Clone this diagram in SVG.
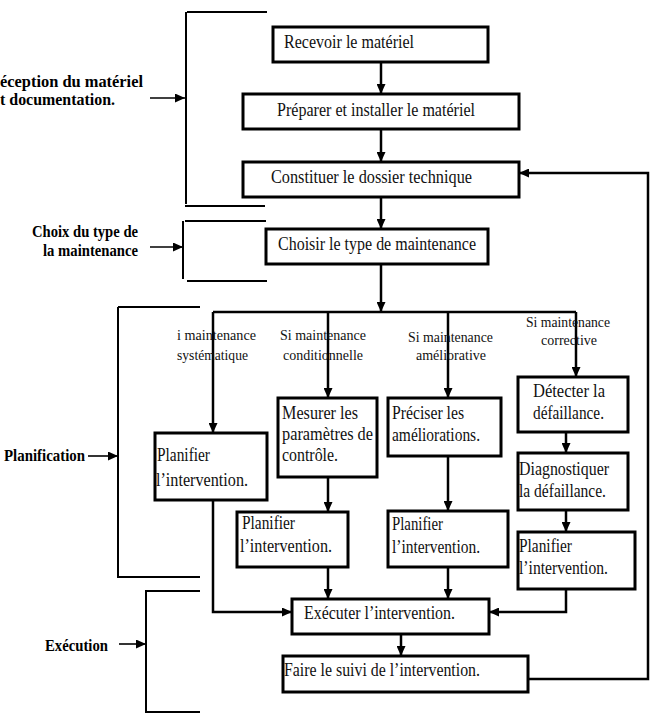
<svg xmlns="http://www.w3.org/2000/svg" width="653" height="713" viewBox="0 0 653 713">
<style>
.box{fill:#fff;stroke:#000;stroke-width:3}
.t{font-family:"Liberation Serif","Times New Roman",serif;font-size:19.5px;fill:#111}
.s{font-family:"Liberation Serif","Times New Roman",serif;font-size:15px;fill:#111}
.b{font-family:"Liberation Serif","Times New Roman",serif;font-size:16.5px;font-weight:bold;fill:#000}
.c{fill:none;stroke:#000;stroke-width:2.5}
.br{fill:none;stroke:#000;stroke-width:2}
.bl{fill:none;stroke:#000;stroke-width:1.6}
</style>
<defs>
<marker id="ah" markerUnits="userSpaceOnUse" markerWidth="10" markerHeight="9" refX="10" refY="4.5" orient="auto">
<path d="M0,0 L10,4.5 L0,9 Z" fill="#000"/>
</marker>
</defs>
<rect width="653" height="713" fill="#fff"/>

<g id="phases">
<g id="phase-reception">
<path class="br" d="M187,12 H267 M186,12 V204 M185,206 H265"/>
<path class="bl" d="M150,98 H185" marker-end="url(#ah)"/>
<text class="b" x="0" y="87" font-size="17" textLength="143" lengthAdjust="spacingAndGlyphs">éception du matériel</text>
<text class="b" x="0" y="105" font-size="17" textLength="115" lengthAdjust="spacingAndGlyphs">t documentation.</text>
</g>
<g id="phase-choix">
<path class="br" d="M185,221 H266 M183,221 V279 M187,281 H267"/>
<path class="bl" d="M150,247 H183" marker-end="url(#ah)"/>
<text class="b" x="32" y="237" font-size="15" textLength="106" lengthAdjust="spacingAndGlyphs">Choix du type de</text>
<text class="b" x="43" y="256" font-size="15" textLength="95" lengthAdjust="spacingAndGlyphs">la maintenance</text>
</g>
<g id="phase-planification">
<path class="br" d="M118,307 H200 M118,307 V577 H200"/>
<path class="bl" d="M88,456 H118" marker-end="url(#ah)"/>
<text class="b" x="4" y="461" textLength="81" lengthAdjust="spacingAndGlyphs">Planification</text>
</g>
<g id="phase-execution">
<path class="br" d="M200,591 H146 V712 H200"/>
<path class="bl" d="M119,644 H146" marker-end="url(#ah)"/>
<text class="b" x="45" y="651" textLength="63" lengthAdjust="spacingAndGlyphs">Exécution</text>
</g>
</g>

<g id="connectors">
<path class="c" d="M381,62 V94" marker-end="url(#ah)"/>
<path class="c" d="M381,129 V162" marker-end="url(#ah)"/>
<path class="c" d="M381,197 V229" marker-end="url(#ah)"/>
<path class="c" d="M381,264 V312" marker-end="url(#ah)"/>
<path class="c" d="M213,312 H576"/>
<path class="c" d="M213,312 V433" marker-end="url(#ah)"/>
<path class="c" d="M328,312 V398" marker-end="url(#ah)"/>
<path class="c" d="M448,312 V398" marker-end="url(#ah)"/>
<path class="c" d="M576,312 V377" marker-end="url(#ah)"/>
<path class="c" d="M328,477 V512" marker-end="url(#ah)"/>
<path class="c" d="M448,456 V511" marker-end="url(#ah)"/>
<path class="c" d="M566,432 V453" marker-end="url(#ah)"/>
<path class="c" d="M566,510 V532" marker-end="url(#ah)"/>
<path class="c" d="M213,500 V612 H292" marker-end="url(#ah)"/>
<path class="c" d="M328,567 V599" marker-end="url(#ah)"/>
<path class="c" d="M448,567 V599" marker-end="url(#ah)"/>
<path class="c" d="M566,589 V612 H489" marker-end="url(#ah)"/>
<path class="c" d="M401,634 V656" marker-end="url(#ah)"/>
<path class="c" d="M528,679 H648 V173 H519" marker-end="url(#ah)"/>
<text class="s" x="177" y="340" textLength="79" lengthAdjust="spacingAndGlyphs">i maintenance</text>
<text class="s" x="177" y="360" textLength="71" lengthAdjust="spacingAndGlyphs">systématique</text>
<text class="s" x="280" y="340" textLength="86" lengthAdjust="spacingAndGlyphs">Si maintenance</text>
<text class="s" x="283" y="360" textLength="80" lengthAdjust="spacingAndGlyphs">conditionnelle</text>
<text class="s" x="408" y="342" textLength="85" lengthAdjust="spacingAndGlyphs">Si maintenance</text>
<text class="s" x="416" y="360" textLength="70" lengthAdjust="spacingAndGlyphs">améliorative</text>
<text class="s" x="526" y="327" textLength="84" lengthAdjust="spacingAndGlyphs">Si maintenance</text>
<text class="s" x="541" y="345" textLength="56" lengthAdjust="spacingAndGlyphs">corrective</text>
</g>

<g id="recevoir"><rect class="box" x="273" y="27" width="215" height="35"/>
<text class="t" x="284" y="48" textLength="130" lengthAdjust="spacingAndGlyphs">Recevoir le matériel</text></g>
<g id="preparer"><rect class="box" x="243" y="94" width="276" height="35"/>
<text class="t" x="277" y="116" textLength="198" lengthAdjust="spacingAndGlyphs">Préparer et installer le matériel</text></g>
<g id="constituer"><rect class="box" x="243" y="162" width="276" height="35"/>
<text class="t" x="271" y="183" textLength="201" lengthAdjust="spacingAndGlyphs">Constituer le dossier technique</text></g>
<g id="choisir"><rect class="box" x="266" y="229" width="222" height="35"/>
<text class="t" x="278" y="250" textLength="198" lengthAdjust="spacingAndGlyphs">Choisir le type de maintenance</text></g>

<g id="planifier-systematique"><rect class="box" x="155" y="433" width="112" height="67"/>
<text class="t" x="157" y="461" textLength="53" lengthAdjust="spacingAndGlyphs">Planifier</text>
<text class="t" x="156" y="486" textLength="92" lengthAdjust="spacingAndGlyphs">l’intervention.</text></g>

<g id="mesurer"><rect class="box" x="278" y="398" width="99" height="79"/>
<text class="t" x="282" y="419" textLength="76" lengthAdjust="spacingAndGlyphs">Mesurer les</text>
<text class="t" x="282" y="440" textLength="91" lengthAdjust="spacingAndGlyphs">paramètres de</text>
<text class="t" x="282" y="461" textLength="56" lengthAdjust="spacingAndGlyphs">contrôle.</text></g>
<g id="planifier-conditionnelle"><rect class="box" x="237" y="512" width="111" height="55"/>
<text class="t" x="242" y="529" textLength="53" lengthAdjust="spacingAndGlyphs">Planifier</text>
<text class="t" x="240" y="552" textLength="92" lengthAdjust="spacingAndGlyphs">l’intervention.</text></g>

<g id="preciser"><rect class="box" x="388" y="398" width="113" height="58"/>
<text class="t" x="392" y="419" textLength="72" lengthAdjust="spacingAndGlyphs">Préciser les</text>
<text class="t" x="392" y="441" textLength="88" lengthAdjust="spacingAndGlyphs">améliorations.</text></g>
<g id="planifier-ameliorative"><rect class="box" x="388" y="511" width="120" height="56"/>
<text class="t" x="392" y="530" textLength="51" lengthAdjust="spacingAndGlyphs">Planifier</text>
<text class="t" x="392" y="553" textLength="88" lengthAdjust="spacingAndGlyphs">l’intervention.</text></g>

<g id="detecter"><rect class="box" x="518" y="377" width="110" height="55"/>
<text class="t" x="533" y="397" textLength="72" lengthAdjust="spacingAndGlyphs">Détecter la</text>
<text class="t" x="533" y="419" textLength="71" lengthAdjust="spacingAndGlyphs">défaillance.</text></g>
<g id="diagnostiquer"><rect class="box" x="518" y="453" width="110" height="57"/>
<text class="t" x="519" y="475" textLength="90" lengthAdjust="spacingAndGlyphs">Diagnostiquer</text>
<text class="t" x="519" y="497" textLength="87" lengthAdjust="spacingAndGlyphs">la défaillance.</text></g>
<g id="planifier-corrective"><rect class="box" x="518" y="532" width="117" height="57"/>
<text class="t" x="519" y="552" textLength="53" lengthAdjust="spacingAndGlyphs">Planifier</text>
<text class="t" x="519" y="574" textLength="89" lengthAdjust="spacingAndGlyphs">l’intervention.</text></g>

<g id="executer"><rect class="box" x="292" y="599" width="197" height="35"/>
<text class="t" x="304" y="619" textLength="151" lengthAdjust="spacingAndGlyphs">Exécuter l’intervention.</text></g>
<g id="suivi"><rect class="box" x="283" y="656" width="245" height="36"/>
<text class="t" x="284" y="676" textLength="196" lengthAdjust="spacingAndGlyphs">Faire le suivi de l’intervention.</text></g>
</svg>
